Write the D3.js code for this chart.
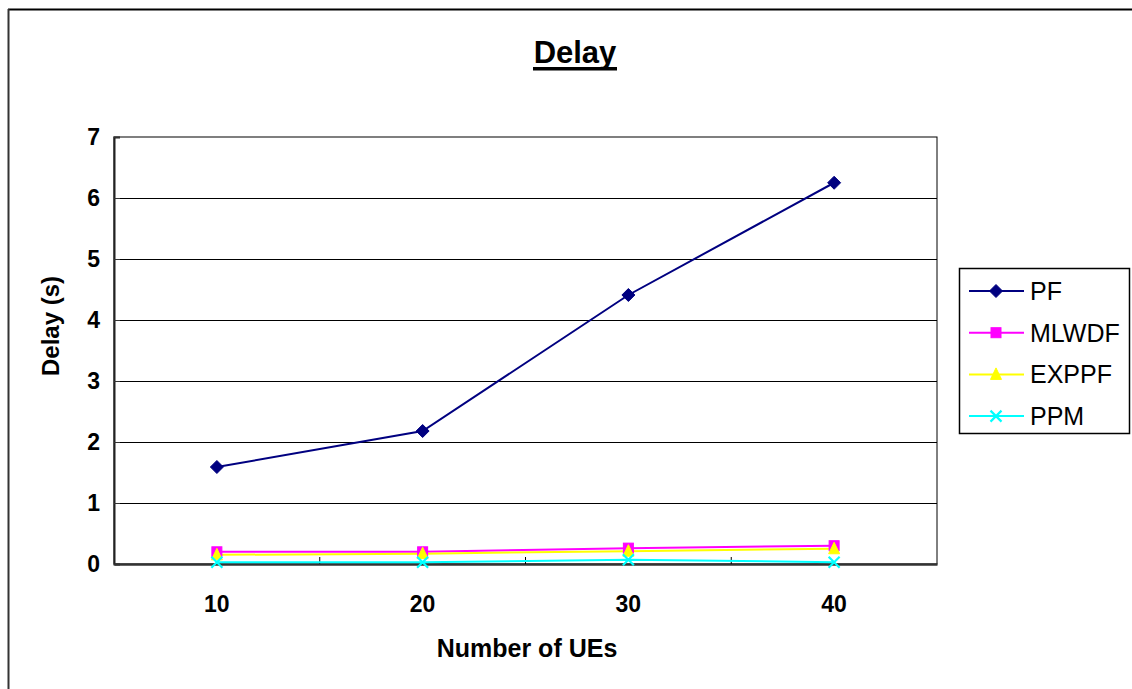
<!DOCTYPE html>
<html><head><meta charset="utf-8">
<script src="https://cdn.jsdelivr.net/npm/d3@7"></script>
<style>body{margin:0;background:#fff}svg{display:block;font-family:Arial,"Liberation Sans",sans-serif}</style>
</head><body>
<svg id="c" width="1132" height="689"></svg>
<script>
const categories = ["10","20","30","40"];
const seriesNames = ["PF","MLWDF","EXPPF","PPM"];
const pfValues = [1.59, 2.18, 4.41, 6.25];
const mlwdfValues = [0.20, 0.20, 0.26, 0.30];
const expfValues = [0.15, 0.17, 0.21, 0.25];
const ppmValues = [0.03, 0.03, 0.07, 0.03];
const yTicks = [0,1,2,3,4,5,6,7];
const titleText = "Delay";
const xTitle = "Number of UEs";
const yTitle = "Delay (s)";

const series = [
  {name:"PF", values:pfValues, color:"#000080", marker:"diamond"},
  {name:"MLWDF", values:mlwdfValues, color:"#FF00FF", marker:"square"},
  {name:"EXPPF", values:expfValues, color:"#FFFF00", marker:"triangle"},
  {name:"PPM", values:ppmValues, color:"#00FFFF", marker:"cross"}
];

const svg = d3.select("#c");
const L = 114, R = 937, T = 137, B = 564;

// outer frame
svg.append("line").attr("x1",8).attr("x2",1132).attr("y1",9.5).attr("y2",9.5).attr("stroke","#000").attr("stroke-width",2);
svg.append("line").attr("x1",8.5).attr("x2",8.5).attr("y1",9).attr("y2",689).attr("stroke","#333").attr("stroke-width",2);

// title
svg.append("text").attr("x",575).attr("y",63).attr("text-anchor","middle")
  .attr("font-size",31).attr("font-weight","bold").text(titleText);
svg.append("rect").attr("x",533).attr("y",67).attr("width",84).attr("height",3.5).attr("fill","#000");

const x = d3.scaleBand().domain(categories).range([L,R]);
const y = d3.scaleLinear().domain([0,7]).range([B,T]);

// plot area
svg.append("rect").attr("x",L).attr("y",T).attr("width",R-L).attr("height",B-T)
  .attr("fill","#fff").attr("stroke","#000").attr("stroke-width",1);

// gridlines
svg.append("g").selectAll("line").data(yTicks.filter(d=>d>0&&d<7)).join("line")
  .attr("x1",L).attr("x2",R).attr("y1",d=>Math.round(y(d))+0.5).attr("y2",d=>Math.round(y(d))+0.5)
  .attr("stroke","#000").attr("stroke-width",1);

// y axis
const yAxis = svg.append("g").attr("transform",`translate(${L},0)`)
  .call(d3.axisLeft(y).tickValues(yTicks).tickSize(-6).tickPadding(14).tickFormat(d3.format("d")));
yAxis.select(".domain").attr("stroke","#222").attr("stroke-width",2);
yAxis.selectAll(".tick line").attr("stroke","#333");
yAxis.selectAll("text").attr("font-size",23).attr("font-weight","bold").attr("font-family","Arial,'Liberation Sans',sans-serif").attr("fill","#000");

// x axis
const xAxis = svg.append("g").attr("transform",`translate(0,${B})`)
  .call(d3.axisBottom(x).tickSize(0).tickPadding(32));
xAxis.select(".domain").attr("stroke","#333").attr("stroke-width",2.5);
xAxis.selectAll("text").attr("font-size",23).attr("font-weight","bold").attr("font-family","Arial,'Liberation Sans',sans-serif").attr("fill","#000");
// category divider ticks (inside)
svg.append("g").selectAll("line").data(categories.slice(1)).join("line")
  .attr("x1",d=>x(d)).attr("x2",d=>x(d)).attr("y1",B).attr("y2",B-7).attr("stroke","#000").attr("stroke-width",1);

// axis titles
svg.append("text").attr("x",527).attr("y",657).attr("text-anchor","middle")
  .attr("font-size",25).attr("font-weight","bold").text(xTitle);
svg.append("text").attr("transform","translate(59,326) rotate(-90)").attr("text-anchor","middle")
  .attr("font-size",24).attr("font-weight","bold").text(yTitle);

function drawMarker(g, type, color, cx, cy){
  if(type==="diamond"){
    g.append("path").attr("d",`M${cx},${cy-6.5}L${cx+6.5},${cy}L${cx},${cy+6.5}L${cx-6.5},${cy}Z`).attr("fill",color).attr("stroke",color);
  } else if(type==="square"){
    g.append("rect").attr("x",cx-5).attr("y",cy-5).attr("width",10).attr("height",10).attr("fill",color).attr("stroke",color);
  } else if(type==="triangle"){
    g.append("path").attr("d",`M${cx},${cy-6.5}L${cx+5.5},${cy+5}L${cx-5.5},${cy+5}Z`).attr("fill",color).attr("stroke",color);
  } else {
    g.append("path").attr("d",`M${cx-5.5},${cy-5.5}L${cx+5.5},${cy+5.5}M${cx-5.5},${cy+5.5}L${cx+5.5},${cy-5.5}`).attr("stroke",color).attr("stroke-width",2.2).attr("fill","none");
  }
}

const cx = d => x(d) + x.bandwidth()/2;
const line = d3.line().x((v,i)=>cx(categories[i])).y(v=>y(v));
const gS = svg.append("g");
series.forEach(s=>{
  gS.append("path").datum(s.values).attr("d",line).attr("fill","none").attr("stroke",s.color).attr("stroke-width",2);
});
series.forEach(s=>{
  s.values.forEach((v,i)=>drawMarker(gS, s.marker, s.color, cx(categories[i]), y(v)));
});

// legend
const lg = svg.append("g");
lg.append("rect").attr("x",959.5).attr("y",268.5).attr("width",170).attr("height",165).attr("fill","#fff").attr("stroke","#000").attr("stroke-width",1.5);
series.forEach((s,i)=>{
  const ly = 291 + i*41.7;
  lg.append("line").attr("x1",969).attr("x2",1024).attr("y1",ly).attr("y2",ly).attr("stroke",s.color).attr("stroke-width",2);
  drawMarker(lg, s.marker, s.color, 996, ly);
  lg.append("text").attr("x",1030).attr("y",ly+9).attr("font-size",25).text(s.name);
});
</script>
</body></html>
